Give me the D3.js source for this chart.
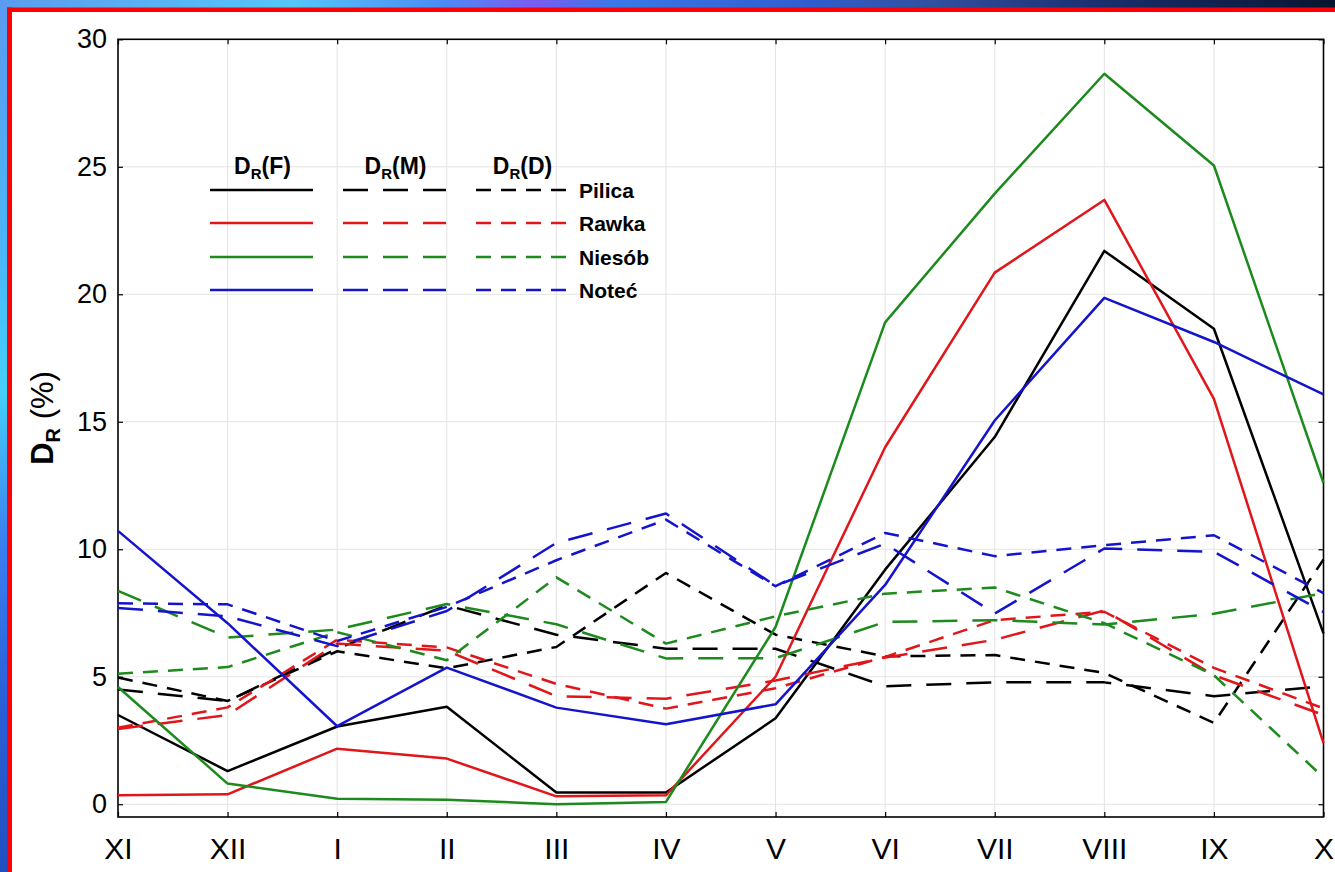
<!DOCTYPE html>
<html>
<head>
<meta charset="utf-8">
<script src="https://cdn.jsdelivr.net/npm/d3@7"></script>
<style>
  body { margin: 0; background: #fff; }
  text { font-family: "Liberation Sans", Arial, sans-serif; }
</style>
</head>
<body>
<svg id="chart" width="1335" height="872"></svg>
<script>
// months of the hydrological year
var months = ["XI", "XII", "I", "II", "III", "IV", "V", "VI", "VII", "VIII", "IX", "X"]
var yTicks = [0, 5, 10, 15, 20, 25, 30]

// D_R (%), F = solid, M = long dash, D = short dash
var pilicaF = [3.5, 1.3, 3.05, 3.82, 0.46, 0.46, 3.37, 9.2, 14.4, 21.7, 18.65, 6.7]
var pilicaM = [4.5, 4.05, 6.1, 7.8, 6.65, 6.1, 6.1, 4.63, 4.78, 4.78, 4.24, 4.63]
var pilicaD = [4.97, 4.05, 6.0, 5.33, 6.17, 9.07, 6.65, 5.8, 5.85, 5.15, 3.19, 9.6]

var rawkaF = [0.35, 0.39, 2.18, 1.79, 0.31, 0.35, 5.0, 14.0, 20.85, 23.7, 15.9, 2.4]
var rawkaM = [2.95, 3.5, 6.3, 6.02, 4.24, 4.14, 4.85, 5.75, 6.45, 7.6, 5.06, 3.5]
var rawkaD = [3.0, 3.8, 6.45, 6.15, 4.72, 3.75, 4.55, 5.78, 7.22, 7.55, 5.35, 3.76]

var niesobF = [4.6, 0.81, 0.22, 0.18, 0.0, 0.09, 6.95, 18.9, 23.95, 28.65, 25.05, 12.6]
var niesobM = [8.37, 6.54, 6.85, 7.85, 7.06, 5.72, 5.73, 7.15, 7.22, 7.05, 7.47, 8.28]
var niesobD = [5.12, 5.38, 6.75, 5.65, 8.9, 6.3, 7.37, 8.26, 8.5, 7.1, 5.06, 1.05]

var notecF = [10.72, 7.1, 3.06, 5.36, 3.79, 3.14, 3.92, 8.6, 15.05, 19.86, 18.13, 16.07]
var notecM = [7.7, 7.37, 6.2, 7.58, 10.25, 11.4, 8.57, 10.22, 7.48, 10.03, 9.9, 7.54]
var notecD = [7.88, 7.84, 6.4, 7.74, 9.57, 11.16, 8.55, 10.64, 9.73, 10.16, 10.55, 8.28]

var rivers = ["Pilica", "Rawka", "Niesób", "Noteć"]
var colors = ["#000000", "#e0161b", "#1c8a1c", "#1414cc"]
var riverData = [
  [pilicaF, pilicaM, pilicaD],
  [rawkaF, rawkaM, rawkaD],
  [niesobF, niesobM, niesobD],
  [notecF, notecM, notecD]
]
var kinds = ["F", "M", "D"]
var dashes = [null, "25,15", "15,10"]

var svg = d3.select("#chart")

// frame of the slide
var defs = svg.append("defs")
var gTop = defs.append("linearGradient").attr("id", "gTop")
  .attr("x1", "0").attr("x2", "1").attr("y1", "0").attr("y2", "0")
;[[0, "#5b9cf0"], [0.22, "#55c6f8"], [0.33, "#4a8cf5"], [0.4, "#7a5cf0"], [0.46, "#3a78e8"],
  [0.6, "#2f5fd0"], [0.7, "#3050a0"], [0.82, "#1a3070"], [1, "#081530"]]
  .forEach(function (s) { gTop.append("stop").attr("offset", s[0]).attr("stop-color", s[1]) })
var gLeft = defs.append("linearGradient").attr("id", "gLeft")
  .attr("x1", "0").attr("x2", "0").attr("y1", "0").attr("y2", "1")
;[[0, "#5a9af0"], [0.3, "#4ab8f8"], [0.45, "#45d0f8"], [0.62, "#3a80f0"], [0.8, "#2a60d8"], [1, "#2050c0"]]
  .forEach(function (s) { gLeft.append("stop").attr("offset", s[0]).attr("stop-color", s[1]) })

svg.append("rect").attr("x", 0).attr("y", 0).attr("width", 1335).attr("height", 8).attr("fill", "url(#gTop)")
svg.append("rect").attr("x", 0).attr("y", 0).attr("width", 7).attr("height", 872).attr("fill", "url(#gLeft)")
svg.append("rect").attr("x", 7).attr("y", 7.5).attr("width", 1328).attr("height", 4.5).attr("fill", "#ff0000")
svg.append("rect").attr("x", 7).attr("y", 7.5).attr("width", 5).attr("height", 865).attr("fill", "#ff0000")

// plot area (names avoid window.top)
var pLeft = 118, pRight = 1323.5, pTop = 39.3, pBottom = 817

var x = d3.scalePoint().domain(months).range([pLeft, pRight])
var y = d3.scaleLinear().domain([-0.5, 30]).range([pBottom, pTop])

// grid
svg.append("g").selectAll("line").data(months.slice(1, -1)).enter().append("line")
  .attr("x1", d => x(d)).attr("x2", d => x(d)).attr("y1", pTop).attr("y2", pBottom)
  .attr("stroke", "#e3e3e3").attr("stroke-width", 1)
svg.append("g").selectAll("line").data(yTicks.slice(0, -1)).enter().append("line")
  .attr("x1", pLeft).attr("x2", pRight).attr("y1", d => y(d)).attr("y2", d => y(d))
  .attr("stroke", "#e3e3e3").attr("stroke-width", 1)

// axes, ticks inward on all sides
var axisStyle = function (g) {
  g.select(".domain").remove()
  g.selectAll(".tick line").attr("stroke", "#000").attr("stroke-width", 1.2)
  g.selectAll(".tick text").attr("fill", "#000")
}
svg.append("g").attr("transform", "translate(0," + pBottom + ")")
  .call(d3.axisBottom(x).tickSizeInner(-5).tickSizeOuter(0).tickPadding(21))
  .call(axisStyle)
  .selectAll("text").attr("font-size", 30)
svg.append("g").attr("transform", "translate(0," + pTop + ")")
  .call(d3.axisTop(x).tickSizeInner(-5).tickSizeOuter(0).tickFormat(""))
  .call(axisStyle)
svg.append("g").attr("transform", "translate(" + pLeft + ",0)")
  .call(d3.axisLeft(y).tickValues(yTicks).tickSizeInner(-5).tickSizeOuter(0).tickPadding(11))
  .call(axisStyle)
  .selectAll("text").attr("font-size", 27)
svg.append("g").attr("transform", "translate(" + pRight + ",0)")
  .call(d3.axisRight(y).tickValues(yTicks).tickSizeInner(-5).tickSizeOuter(0).tickFormat(""))
  .call(axisStyle)

svg.append("rect").attr("x", pLeft).attr("y", pTop).attr("width", pRight - pLeft).attr("height", pBottom - pTop)
  .attr("fill", "none").attr("stroke", "#000").attr("stroke-width", 1.6)

// y label
var yl = svg.append("text").attr("transform", "translate(53,418) rotate(-90)")
  .attr("text-anchor", "middle").attr("font-size", 31).attr("font-weight", "bold")
yl.append("tspan").text("D")
yl.append("tspan").attr("font-size", 20).attr("dy", 7).text("R")
yl.append("tspan").attr("dy", -7).attr("font-weight", "normal").text(" (%)")

// lines
var line = d3.line().x((d, i) => x(months[i])).y(d => y(d))
var lines = svg.append("g")
riverData.forEach(function (set, r) {
  set.forEach(function (vals, k) {
    lines.append("path").datum(vals)
      .attr("d", line)
      .attr("fill", "none")
      .attr("stroke", colors[r])
      .attr("stroke-width", 2.5)
      .attr("stroke-dasharray", dashes[k])
      .attr("stroke-linejoin", "round")
  })
})

// legend
var legCols = [[210, 313], [343, 446], [476, 567]]
var legRows = [190, 223, 257, 290]
var leg = svg.append("g")
kinds.forEach(function (k, c) {
  var t = leg.append("text").attr("x", (legCols[c][0] + legCols[c][1]) / 2 + 1).attr("y", 174)
    .attr("text-anchor", "middle").attr("font-size", 23).attr("font-weight", "bold")
  t.append("tspan").text("D")
  t.append("tspan").attr("font-size", 15).attr("dy", 5).text("R")
  t.append("tspan").attr("dy", -5).text("(" + k + ")")
})
rivers.forEach(function (name, r) {
  kinds.forEach(function (k, c) {
    leg.append("line").attr("x1", legCols[c][0]).attr("x2", legCols[c][1])
      .attr("y1", legRows[r]).attr("y2", legRows[r])
      .attr("stroke", colors[r]).attr("stroke-width", 2.6)
      .attr("stroke-dasharray", dashes[c])
  })
  leg.append("text").attr("x", 579).attr("y", legRows[r] + 7.5)
    .attr("font-size", 21).attr("font-weight", "bold").text(name)
})
</script>
</body>
</html>
